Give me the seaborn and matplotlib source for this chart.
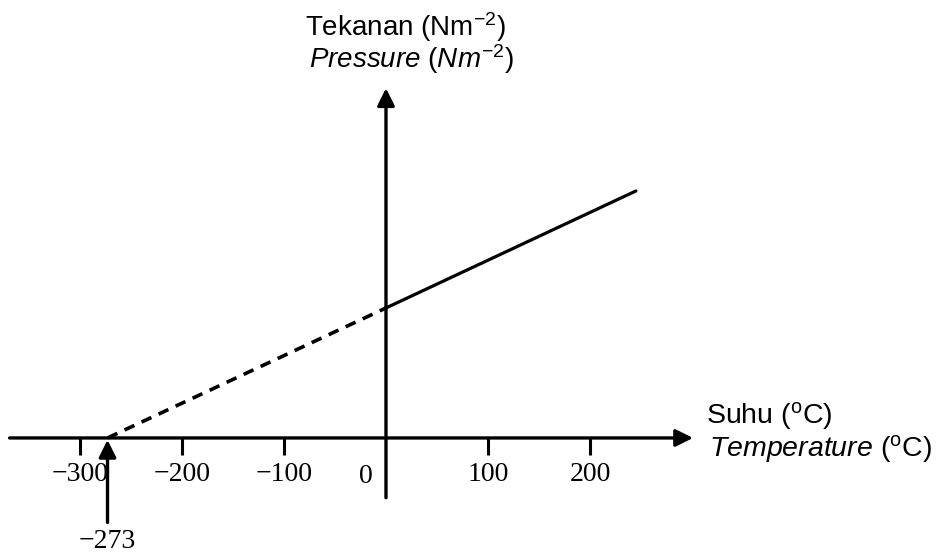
import matplotlib
matplotlib.use("Agg")
import matplotlib.pyplot as plt
import seaborn as sns

sns.set_style("white")
plt.rcParams['font.family'] = ['Liberation Sans', 'DejaVu Sans']
plt.rcParams['text.color'] = 'black'
plt.rcParams['xtick.color'] = 'black'
plt.rcParams['mathtext.fontset'] = 'custom'
plt.rcParams['mathtext.rm'] = 'Liberation Sans'
plt.rcParams['mathtext.it'] = 'Liberation Sans:italic'

# data (pressure in arbitrary units, 100 at 0 degC)
temp_extrapolated = [-273, 0]
pressure_extrapolated = [0, 100]
temp_measured = [0, 245]
pressure_measured = [100, 190]
tick_values = [-300, -200, -100, 100, 200]
tick_labels = ["\u2212300", "\u2212200", "\u2212100", "100", "200"]
absolute_zero = -273

fig = plt.figure(figsize=(9.41, 5.53), dpi=100)
ax = fig.add_axes([0, 0, 1, 1])
ax.set_xlim(-378.4, 544.1)
ax.set_ylim(-88.5, 336.9)

# line: dashed extrapolation, solid measured part
sns.lineplot(x=temp_extrapolated, y=pressure_extrapolated, ax=ax, color="black",
             linewidth=2.6, linestyle=(0, (3.0, 2.2)))
sns.lineplot(x=temp_measured, y=pressure_measured, ax=ax, color="black", linewidth=2.3)

# axes through the origin with arrow heads
arrow = dict(arrowstyle="-|>", lw=2.4, color="black", mutation_scale=26, shrinkA=0, shrinkB=0)
ax.annotate("", xy=(301, 0), xytext=(-369, 0), arrowprops=arrow)
ax.annotate("", xy=(0, 269), xytext=(0, -46), arrowprops=arrow)

# ticks below the x axis
for s in ax.spines.values():
    s.set_visible(False)
ax.spines['bottom'].set_position(('data', 0))
ax.spines['left'].set_position(('data', 0))
ax.set_xticks(tick_values)
ax.set_xticklabels(tick_labels, fontfamily="Liberation Serif", fontsize=20)
ax.set_yticks([])
ax.tick_params(axis="x", length=12.5, width=2.2, pad=4.5, direction="out", bottom=True)
ax.text(-20, -20.0, "0", ha="center", va="top", fontfamily="Liberation Serif", fontsize=20)

# -273 marker
ax.annotate("", xy=(absolute_zero, -1.5), xytext=(absolute_zero, -65), arrowprops=arrow)
ax.text(absolute_zero, -79.5, "\u2212273", ha="center", va="center",
        fontfamily="Liberation Serif", fontsize=20)

# axis titles
ax.text(314, 11.5, r"Suhu ($^{\mathrm{o}}$C)", ha="left", va="baseline", fontsize=20.5)
ax.text(317, -14.6, r"$\mathit{Temperature}$ ($^{\mathrm{o}}$C)", ha="left", va="baseline", fontsize=20.5)
ax.text(19, 309.5, r"Tekanan (Nm$^{\mathrm{-2}}$)", ha="center", va="baseline", fontsize=20)
ax.text(25, 284.6, r"$\mathit{Pressure\ (Nm^{-2})}$", ha="center", va="baseline", fontsize=20)

fig.savefig("out.png", dpi=100)
